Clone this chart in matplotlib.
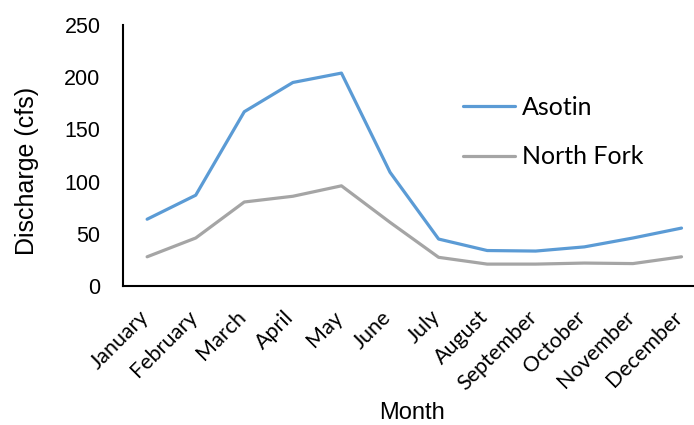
import matplotlib
matplotlib.use("Agg")
import matplotlib.pyplot as plt
import matplotlib.transforms as mtransforms

months = ["January", "February", "March", "April", "May", "June",
          "July", "August", "September", "October", "November", "December"]
asotin = [64, 87, 167, 195, 204, 109, 45, 34, 33.5, 37.5, 46, 55.5]
north_fork = [28, 46, 80.5, 86, 96, 61, 27.5, 21, 21, 22, 21.5, 28]

arial = ["Liberation Sans", "DejaVu Sans"]
calib = ["Lato", "DejaVu Sans"]

fig = plt.figure(figsize=(6.94, 4.25), dpi=100)
ax = fig.add_axes([0.177, 0.327, 0.840, 0.614])

x = range(len(months))
ax.plot(x, asotin, color="#5B9BD5", lw=2.3, label="Asotin", solid_capstyle="round")
ax.plot(x, north_fork, color="#A5A5A5", lw=2.3, label="North Fork", solid_capstyle="round")

ax.set_xlim(-0.5, 11.5)
ax.set_ylim(0, 250)
ax.set_yticks(range(0, 251, 50))
ax.set_xticks(list(x))
ax.tick_params(axis="both", length=0)
ax.tick_params(axis="y", pad=16)
ax.tick_params(axis="x", pad=15)
ax.set_xticklabels(months, rotation=45, ha="right", rotation_mode="anchor",
                   family=calib, fontsize=15.5)
for t in ax.get_yticklabels():
    t.set_family(arial)
    t.set_fontsize(15.5)

# nudge the slanted month names a little to the left
shift = mtransforms.ScaledTranslation(-0.09, 0, fig.dpi_scale_trans)
for t in ax.get_xticklabels():
    t.set_transform(t.get_transform() + shift)

for s in ["top", "right"]:
    ax.spines[s].set_visible(False)
for s in ["left", "bottom"]:
    ax.spines[s].set_linewidth(1.5)
    ax.spines[s].set_color("black")

ax.set_ylabel("Discharge (cfs)", family=arial, fontsize=18)
ax.yaxis.set_label_coords(-0.144, 0.44)
ax.set_xlabel("Month", family=arial, fontsize=17)
ax.xaxis.set_label_coords(0.496, -0.445)

ax.legend(loc="center left", bbox_to_anchor=(0.566, 0.59), frameon=False,
          prop={"family": calib, "size": 18}, handlelength=2.1,
          handletextpad=0.25, labelspacing=1.07, borderaxespad=0)

fig.savefig("out.png", dpi=100)
